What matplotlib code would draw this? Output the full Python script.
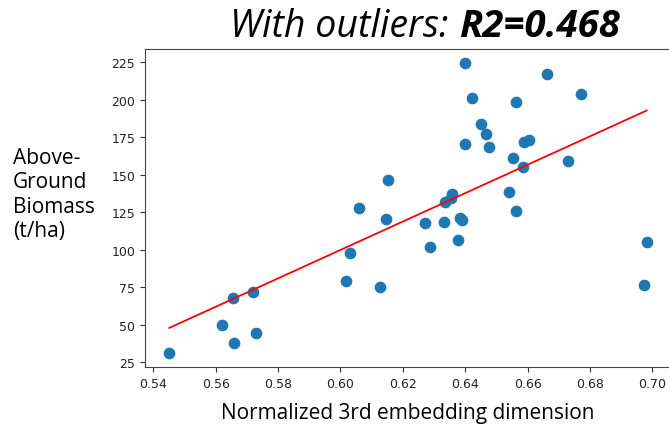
import numpy as np
import matplotlib
matplotlib.use("Agg")
import matplotlib.pyplot as plt

# Normalized 3rd embedding dimension vs. above-ground biomass (t/ha)
embedding_dim3 = [
    0.5451, 0.5620, 0.5654, 0.5658, 0.5718, 0.5729, 0.6019, 0.6032, 0.6058,
    0.6128, 0.6147, 0.6151, 0.6270, 0.6288, 0.6332, 0.6336, 0.6356, 0.6358,
    0.6378, 0.6385, 0.6390, 0.6399, 0.6400, 0.6422, 0.6452, 0.6468, 0.6476,
    0.6541, 0.6555, 0.6562, 0.6564, 0.6587, 0.6589, 0.6604, 0.6662, 0.6729,
    0.6771, 0.6974, 0.6982,
]
biomass = [
    30.8, 49.5, 67.5, 37.7, 71.9, 44.3, 79.0, 97.5, 127.5,
    75.2, 120.3, 146.1, 117.9, 101.9, 118.3, 131.7, 134.1, 136.8,
    106.3, 121.0, 119.5, 170.1, 224.5, 200.8, 183.9, 176.8, 168.5,
    138.5, 161.2, 198.1, 125.7, 154.8, 171.9, 173.0, 217.2, 159.2,
    203.5, 76.3, 105.2,
]
x_ticks = [0.54, 0.56, 0.58, 0.60, 0.62, 0.64, 0.66, 0.68, 0.70]
y_ticks = [25, 50, 75, 100, 125, 150, 175, 200, 225]

x = np.array(embedding_dim3)
y = np.array(biomass)

# least-squares regression line over the observed x range
slope, intercept = np.polyfit(x, y, 1)
x_line = np.array([x.min(), x.max()])
y_line = slope * x_line + intercept

W, H = 669, 427
fig = plt.figure(figsize=(W / 100, H / 100), dpi=100)
ax = fig.add_axes([145 / W, (H - 368) / H, (670 - 145) / W, (368 - 50) / H])

ax.scatter(x, y, s=55, color="#1f77b4", zorder=2)
ax.plot(x_line, y_line, color="red", lw=1.3, zorder=3)

ax.set_xlim(0.5373, 0.7057)
ax.set_ylim(21.7, 233.7)
ax.set_xticks(x_ticks)
ax.set_yticks(y_ticks)
ax.set_xticklabels([f"{t:.2f}" for t in x_ticks])
ax.tick_params(labelsize=9, colors="#333333", labelcolor="#222222")
for sp in ax.spines.values():
    sp.set_color("#444444")

text_font = "Open Sans"
fig.text(448 / W, 1 - 37 / H, "With outliers:", fontfamily=text_font,
         fontstyle="italic", fontsize=27, ha="right", va="baseline")
fig.text(459 / W, 1 - 37 / H, "R2=0.468", fontfamily=text_font,
         fontstyle="italic", fontweight="bold", fontsize=27.5,
         ha="left", va="baseline")

fig.text(13 / W, 1 - 195 / H, "Above-\nGround\nBiomass\n(t/ha)",
         fontfamily=text_font, fontsize=15, ha="left", va="center",
         multialignment="left")
fig.text(408 / W, 1 - 419 / H, "Normalized 3rd embedding dimension",
         fontfamily=text_font, fontsize=15, ha="center", va="baseline")

fig.savefig("out.png", dpi=100)
